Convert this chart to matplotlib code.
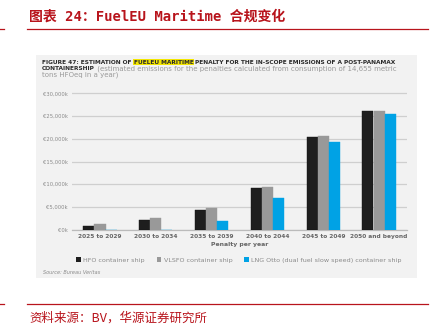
import matplotlib.pyplot as plt
from matplotlib.patches import Rectangle, Patch
from matplotlib.lines import Line2D
from matplotlib.ticker import FuncFormatter
import numpy as np

# penalty per year, thousand EUR
periods = ["2025 to 2029", "2030 to 2034", "2035 to 2039",
           "2040 to 2044", "2045 to 2049", "2050 and beyond"]
hfo = [800, 2100, 4400, 9100, 20450, 26000]
vlsfo = [1200, 2600, 4850, 9300, 20700, 26000]
lng = [0, 0, 2000, 6950, 19350, 25400]
series_names = ["HFO container ship", "VLSFO container ship",
                "LNG Otto (dual fuel slow speed) container ship"]
series_colors = ["#1e1e1e", "#999999", "#00a2e5"]

red = "#b8141c"

fig = plt.figure(figsize=(4.32, 3.35), dpi=100)
W, H = 432, 335

def fx(px):
    return px / W

def fy(py):
    return 1 - py / H

# title + red rules
fig.text(fx(29), fy(17), "图表 24：FuelEU Maritime 合规变化", color=red,
         fontsize=10, fontweight="bold", va="center", ha="left",
         family=["DejaVu Sans Mono", "Noto Sans CJK SC"])
for y in (29, 304):
    fig.add_artist(Line2D([fx(27), fx(428)], [fy(y), fy(y)], color=red, lw=0.9))
    fig.add_artist(Line2D([0, fx(4)], [fy(y), fy(y)], color=red, lw=0.9))
fig.text(fx(29), fy(318), "资料来源：BV，华源证券研究所", color=red,
         fontsize=9, va="center", ha="left",
         family=["Noto Sans CJK SC", "DejaVu Sans"])

# grey panel behind the chart
fig.add_artist(Rectangle((fx(36), fy(278)), fx(417) - fx(36), fy(55) - fy(278),
                         facecolor="#f2f2f2", edgecolor="none", zorder=0))

# panel header
hdr_fs = 4.28
dark = "#2a2a2a"
grey_txt = "#9a9a9a"
t1 = fig.text(fx(42), fy(62), "FIGURE 47: ESTIMATION OF ", fontsize=hdr_fs,
              fontweight="bold", color=dark, va="center", ha="left")
t2 = fig.text(0, 0, "FUELEU MARITIME", fontsize=hdr_fs, fontweight="bold",
              color=dark, va="center", ha="left",
              bbox=dict(facecolor="#f3e600", edgecolor="none", pad=0.4))
t3 = fig.text(0, 0, " PENALTY FOR THE IN-SCOPE EMISSIONS OF A POST-PANAMAX",
              fontsize=hdr_fs, fontweight="bold", color=dark, va="center", ha="left")
fig.canvas.draw()
r = fig.canvas.get_renderer()
bb1 = t1.get_window_extent(r)
t2.set_position((bb1.x1 / fig.bbox.width, fy(62)))
bb2 = t2.get_window_extent(r)
t3.set_position((bb2.x1 / fig.bbox.width, fy(62)))

t4 = fig.text(fx(42), fy(69), "CONTAINERSHIP", fontsize=hdr_fs,
              fontweight="bold", color=dark, va="center", ha="left")
bb4 = t4.get_window_extent(r)
fig.text(bb4.x1 / fig.bbox.width, fy(69),
         " (estimated emissions for the penalties calculated from consumption of 14,655 metric",
         fontsize=5.05, color=grey_txt, va="center", ha="left")
fig.text(fx(42), fy(75), "tons HFOeq in a year)", fontsize=5.05,
         color=grey_txt, va="center", ha="left")

# bar chart
ymax = 31000
ax = fig.add_axes([fx(72), fy(229.7), fx(407) - fx(72),
                   (136.4 * ymax / 30000) / H])
ax.set_facecolor("none")
x = np.arange(len(periods))
width = 0.2
for i, (vals, name, col) in enumerate(zip([hfo, vlsfo, lng], series_names, series_colors)):
    ax.bar(x + (i - 1) * width, vals, width, color=col, label=name,
           edgecolor="#111111" if i == 0 else col, linewidth=0.3, zorder=3)

ax.set_xlim(-0.5, len(periods) - 0.5)
ax.set_ylim(0, ymax)
ax.set_yticks(np.arange(0, 30001, 5000))
ax.yaxis.set_major_formatter(FuncFormatter(lambda v, p: "€{:,.0f}k".format(v)))
ax.grid(axis="y", color="#cfcfcf", linewidth=0.9, zorder=0)
for s in ("top", "right", "left"):
    ax.spines[s].set_visible(False)
ax.spines["bottom"].set_color("#bbbbbb")
ax.spines["bottom"].set_linewidth(0.9)
ax.tick_params(axis="both", length=0)
ax.tick_params(axis="y", labelsize=3.8, labelcolor="#8a8a8a", pad=3)
ax.set_xticks(x)
ax.set_xticklabels(periods, fontsize=4.2, fontweight="bold", color="#666666")
ax.tick_params(axis="x", pad=3)
ax.set_xlabel("Penalty per year", fontsize=4.4, fontweight="bold",
              color="#666666", labelpad=2)

handles = [Patch(facecolor=c, edgecolor="none") for c in series_colors]
fig.legend(handles, series_names, loc="center", bbox_to_anchor=(fx(239), fy(260)),
           ncol=3, frameon=False, fontsize=4.6, labelcolor="#8a8a8a",
           handlelength=0.75, handleheight=0.75, handletextpad=0.4,
           columnspacing=1.8)

fig.text(fx(43), fy(272), "Source: Bureau Veritas", fontsize=3.6,
         style="italic", color="#8a8a8a", va="center", ha="left")

fig.savefig("out.png", dpi=100)
